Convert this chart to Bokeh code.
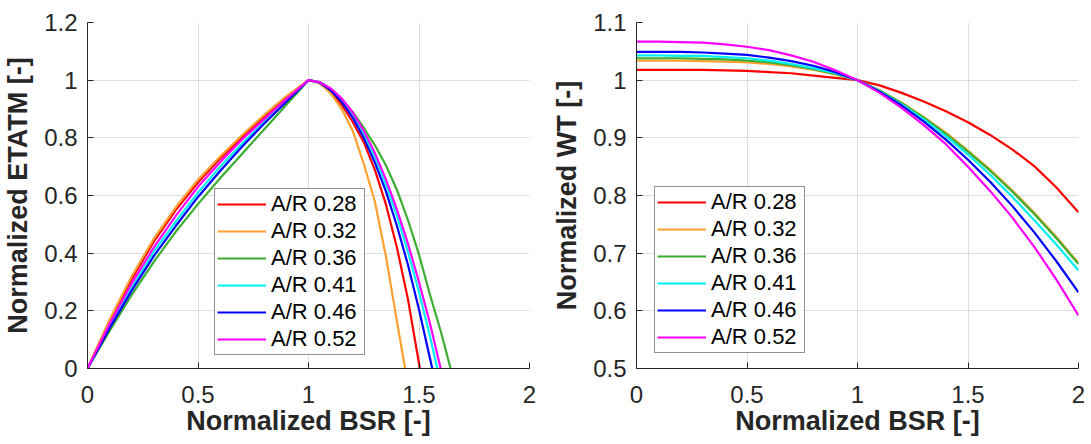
from bokeh.plotting import figure
from bokeh.models import Range1d, FixedTicker, Legend, LegendItem
from bokeh.layouts import row
from bokeh.embed import file_html
from bokeh.resources import INLINE

# ---------------- data ----------------
series_labels = ["A/R 0.28", "A/R 0.32", "A/R 0.36", "A/R 0.41", "A/R 0.46", "A/R 0.52"]
series_colors = ["#ff0000", "#ffa030", "#3cae32", "#00f0f0", "#0000ff", "#ff00ff"]

# Left panel: Normalized ETATM vs Normalized BSR
bsr_rise = [0.0, 0.1, 0.2, 0.3, 0.4, 0.5, 0.6, 0.7, 0.8, 0.9, 1.0]

eta_028_x = bsr_rise + [1.05, 1.1, 1.15, 1.2, 1.25, 1.3, 1.35, 1.4, 1.45, 1.504]
eta_028_y = [0, 0.165, 0.31, 0.44, 0.55, 0.645, 0.728, 0.803, 0.873, 0.94, 1.0,
             0.99, 0.96, 0.915, 0.855, 0.785, 0.69, 0.57, 0.42, 0.24, 0.0]

eta_032_x = bsr_rise + [1.05, 1.1, 1.15, 1.2, 1.25, 1.3, 1.35, 1.4, 1.437]
eta_032_y = [0, 0.17, 0.32, 0.45, 0.56, 0.655, 0.735, 0.81, 0.88, 0.945, 1.0,
             0.99, 0.955, 0.9, 0.825, 0.71, 0.58, 0.39, 0.165, 0.0]

eta_036_x = bsr_rise + [1.05, 1.1, 1.15, 1.2, 1.25, 1.3, 1.35, 1.4, 1.45, 1.5, 1.55, 1.6, 1.643]
eta_036_y = [0, 0.13, 0.255, 0.37, 0.475, 0.57, 0.66, 0.745, 0.83, 0.915, 1.0,
             0.993, 0.97, 0.935, 0.89, 0.835, 0.775, 0.705, 0.62, 0.515, 0.395, 0.255, 0.125, 0.0]

eta_041_x = bsr_rise + [1.05, 1.1, 1.15, 1.2, 1.25, 1.3, 1.35, 1.4, 1.45, 1.5, 1.55, 1.583]
eta_041_y = [0, 0.145, 0.28, 0.405, 0.51, 0.61, 0.7, 0.78, 0.855, 0.93, 1.0,
             0.993, 0.97, 0.932, 0.882, 0.816, 0.735, 0.64, 0.53, 0.405, 0.265, 0.11, 0.0]

eta_046_x = bsr_rise + [1.05, 1.1, 1.15, 1.2, 1.25, 1.3, 1.35, 1.4, 1.45, 1.5, 1.56]
eta_046_y = [0, 0.14, 0.27, 0.39, 0.495, 0.595, 0.685, 0.77, 0.85, 0.925, 1.0,
             0.992, 0.965, 0.925, 0.87, 0.8, 0.715, 0.615, 0.495, 0.36, 0.205, 0.0]

eta_052_x = bsr_rise + [1.05, 1.1, 1.15, 1.2, 1.25, 1.3, 1.35, 1.4, 1.45, 1.5, 1.55, 1.598]
eta_052_y = [0, 0.155, 0.295, 0.42, 0.53, 0.63, 0.715, 0.795, 0.865, 0.935, 1.0,
             0.993, 0.972, 0.937, 0.888, 0.825, 0.748, 0.657, 0.552, 0.433, 0.3, 0.155, 0.0]

# Right panel: Normalized WT vs Normalized BSR
bsr_wt = [0.0, 0.1, 0.2, 0.3, 0.4, 0.5, 0.6, 0.7, 0.8, 0.9, 1.0,
          1.1, 1.2, 1.3, 1.4, 1.5, 1.6, 1.7, 1.8, 1.9, 2.0]
wt_028 = [1.018, 1.018, 1.018, 1.018, 1.017, 1.016, 1.014, 1.012, 1.008, 1.004, 1.0,
          0.991, 0.978, 0.963, 0.946, 0.927, 0.905, 0.880, 0.851, 0.814, 0.771]
wt_032 = [1.034, 1.034, 1.034, 1.033, 1.032, 1.031, 1.028, 1.024, 1.018, 1.010, 1.0,
          0.982, 0.961, 0.936, 0.909, 0.878, 0.845, 0.809, 0.770, 0.728, 0.683]
wt_036 = [1.038, 1.038, 1.038, 1.037, 1.036, 1.034, 1.031, 1.026, 1.019, 1.011, 1.0,
          0.982, 0.960, 0.935, 0.907, 0.876, 0.843, 0.807, 0.768, 0.726, 0.681]
wt_041 = [1.043, 1.043, 1.042, 1.042, 1.040, 1.038, 1.034, 1.028, 1.021, 1.012, 1.0,
          0.981, 0.958, 0.932, 0.903, 0.871, 0.836, 0.798, 0.757, 0.715, 0.670]
wt_046 = [1.049, 1.049, 1.049, 1.048, 1.046, 1.044, 1.039, 1.033, 1.025, 1.014, 1.0,
          0.980, 0.956, 0.928, 0.897, 0.862, 0.824, 0.782, 0.736, 0.686, 0.632]
wt_052 = [1.067, 1.067, 1.066, 1.065, 1.062, 1.058, 1.052, 1.043, 1.032, 1.017, 1.0,
          0.978, 0.952, 0.922, 0.889, 0.850, 0.808, 0.762, 0.711, 0.654, 0.592]

x_ticks = [0, 0.5, 1, 1.5, 2]
x_tick_labels = ["0", "0.5", "1", "1.5", "2"]
eta_ticks = [0, 0.2, 0.4, 0.6, 0.8, 1, 1.2]
eta_tick_labels = ["0", "0.2", "0.4", "0.6", "0.8", "1", "1.2"]
wt_ticks = [0.5, 0.6, 0.7, 0.8, 0.9, 1, 1.1]
wt_tick_labels = ["0.5", "0.6", "0.7", "0.8", "0.9", "1", "1.1"]

x_title = "Normalized BSR [-]"
eta_title = "Normalized ETATM [-]"
wt_title = "Normalized WT [-]"

FONT = "Liberation Sans"
DARK = "#262626"


def make_fig(y_range, yticks, ylabels, ytitle, lb, rb):
    p = figure(output_backend="svg", toolbar_location=None,
               frame_width=442, frame_height=346,
               min_border_left=lb, min_border_right=rb,
               min_border_top=22, min_border_bottom=66,
               x_range=Range1d(0, 2), y_range=y_range)
    p.outline_line_color = None
    p.background_fill_color = "white"
    p.border_fill_color = "white"
    for ax, ticks, labels in ((p.xaxis[0], x_ticks, x_tick_labels),
                              (p.yaxis[0], yticks, ylabels)):
        ax.ticker = FixedTicker(ticks=ticks)
        ax.major_label_overrides = {t: l for t, l in zip(ticks, labels)}
        ax.axis_line_color = DARK
        ax.axis_line_width = 1
        ax.major_tick_line_color = DARK
        ax.major_tick_in = 6
        ax.major_tick_out = 0
        ax.minor_tick_line_color = None
        ax.major_label_text_font = FONT
        ax.major_label_text_font_size = "24px"
        ax.major_label_text_color = DARK
        ax.axis_label_text_font = FONT
        ax.axis_label_text_font_size = "27px"
        ax.axis_label_text_font_style = "bold"
        ax.axis_label_text_color = DARK
    p.xaxis.axis_label = x_title
    p.yaxis.axis_label = ytitle
    p.xaxis.major_label_standoff = 17
    p.xaxis.axis_label_standoff = 0
    p.yaxis.major_label_standoff = 10
    p.yaxis.axis_label_standoff = 8
    p.xgrid.ticker = FixedTicker(ticks=x_ticks)
    p.ygrid.ticker = FixedTicker(ticks=yticks)
    p.grid.grid_line_color = "#dedede"
    p.grid.grid_line_width = 1
    return p


def add_legend(p, renderers, loc):
    items = [LegendItem(label=lab, renderers=[r]) for lab, r in zip(series_labels, renderers)]
    leg = Legend(items=items, location=loc,
                 label_text_font=FONT, label_text_font_size="22px",
                 label_text_color="#000000",
                 glyph_width=49, glyph_height=24, label_height=24, label_width=91,
                 label_standoff=5, spacing=1, padding=2, margin=0,
                 border_line_color=DARK, border_line_width=1,
                 background_fill_color="white", background_fill_alpha=1.0)
    p.add_layout(leg)


p1 = make_fig(Range1d(0, 1.2), eta_ticks, eta_tick_labels, eta_title, 77, 20)
eta_x = [eta_028_x, eta_032_x, eta_036_x, eta_041_x, eta_046_x, eta_052_x]
eta_y = [eta_028_y, eta_032_y, eta_036_y, eta_041_y, eta_046_y, eta_052_y]
r1 = [p1.line(xs, ys, line_color=c, line_width=2.2, line_join="round")
      for xs, ys, c in zip(eta_x, eta_y, series_colors)]
add_legend(p1, r1, (127, 13))

p2 = make_fig(Range1d(0.5, 1.1), wt_ticks, wt_tick_labels, wt_title, 86, 8)
wt_y = [wt_028, wt_032, wt_036, wt_041, wt_046, wt_052]
r2 = [p2.line(bsr_wt, ys, line_color=c, line_width=2.2, line_join="round")
      for ys, c in zip(wt_y, series_colors)]
add_legend(p2, r2, (18, 15))

layout = row(p1, p2)
open("out.html", "w").write(file_html(layout, INLINE))
